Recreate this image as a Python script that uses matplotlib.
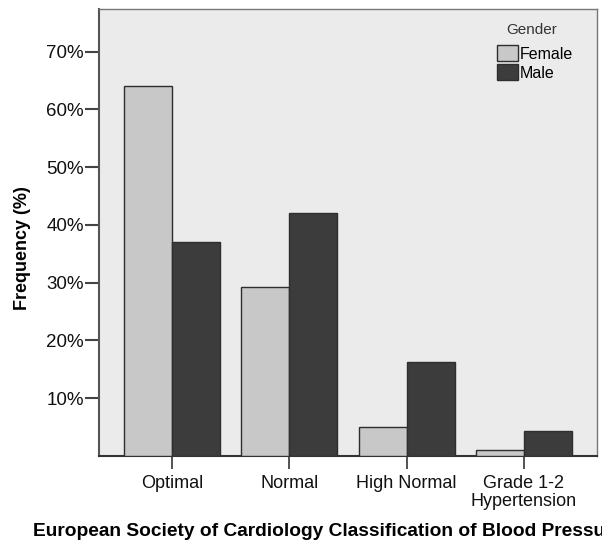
import numpy as np
import matplotlib
matplotlib.use("Agg")
import matplotlib.pyplot as plt
from matplotlib.patches import Patch

plt.rcParams["font.family"] = ["Liberation Sans", "DejaVu Sans"]

# ── DATA ──────────────────────────────────────────────────────────────────────
categories = ["Optimal", "Normal", "High Normal", "Grade 1-2\nHypertension"]
female = [64.1, 29.3, 5.1, 1.1]
male = [37.0, 42.0, 16.2, 4.3]
yticks = [10, 20, 30, 40, 50, 60, 70]

COLOR_F = "#c8c8c8"
COLOR_M = "#3c3c3c"
COLOR_BG = "#ebebeb"
EDGE = "#2e2e2e"

W, H = 602, 542
fig = plt.figure(figsize=(W / 100, H / 100), dpi=100, facecolor="white")
ax = fig.add_axes([99 / W, 1 - 456 / H, (597 - 99) / W, (456 - 9) / H])
ax.set_facecolor(COLOR_BG)

x = np.arange(len(categories))
bw = 0.41
ax.bar(x - bw / 2, female, bw, color=COLOR_F, edgecolor=EDGE, linewidth=1.0, zorder=3)
ax.bar(x + bw / 2, male, bw, color=COLOR_M, edgecolor=EDGE, linewidth=1.0, zorder=3)

ax.set_xlim(-0.625, 3.625)
ax.set_ylim(0, 77.4)
ax.set_yticks(yticks)
ax.set_yticklabels([f"{t}%" for t in yticks], fontsize=13.5, color="#111111")
ax.set_xticks(x)
ax.set_xticklabels(categories, fontsize=13, color="#111111", linespacing=1.05)

ax.tick_params(axis="y", length=10, width=1.5, color="#444444", pad=1)
ax.tick_params(axis="x", length=9, width=1.3, color="#444444", pad=5)

for side in ["top", "right"]:
    ax.spines[side].set_color("#777777")
    ax.spines[side].set_linewidth(1.0)
ax.spines["left"].set_color("#555555")
ax.spines["left"].set_linewidth(1.5)
ax.spines["bottom"].set_color("#333333")
ax.spines["bottom"].set_linewidth(1.5)

fig.text(23 / W, 1 - 248 / H, "Frequency (%)", rotation=90,
         ha="center", va="center", fontsize=13, fontweight="bold")

# x label runs past the right edge, as in the reference
fig.text(33 / W, 1 - 531 / H,
         "European Society of Cardiology Classification of Blood Pressure",
         ha="left", va="center", fontsize=13.8, fontweight="bold")

# legend
fig.text(532 / W, 1 - 30 / H, "Gender", ha="center", va="center",
         fontsize=11, color="#333333")
handles = [Patch(facecolor=COLOR_F, edgecolor=EDGE, label="Female"),
           Patch(facecolor=COLOR_M, edgecolor=EDGE, label="Male")]
leg = ax.legend(handles=handles, loc="upper left",
                bbox_to_anchor=(497 / W, 1 - 45 / H), bbox_transform=fig.transFigure,
                frameon=False, fontsize=11.5, handlelength=1.3, handleheight=1.2,
                handletextpad=0.1, labelspacing=0.15, borderpad=0, borderaxespad=0)

fig.savefig("out.png", dpi=100, facecolor="white")
